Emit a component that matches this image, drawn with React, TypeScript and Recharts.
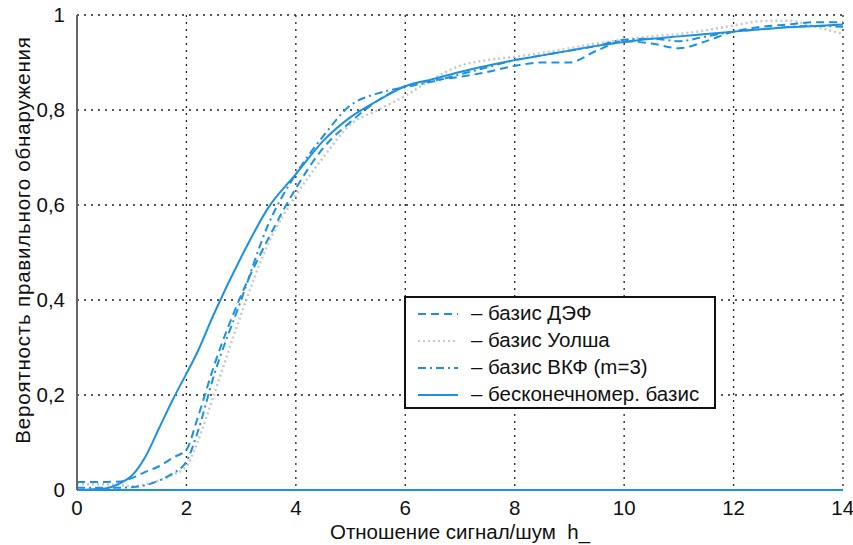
import { LineChart, Line, XAxis, YAxis, CartesianGrid, Label } from "recharts";

const snr = [0, 0.5, 0.8, 1, 1.25, 1.5, 1.75, 2, 2.2, 2.5, 3, 3.5, 4, 4.5, 5, 5.5, 6, 6.5, 7, 7.5, 8, 8.5, 9, 9.5, 10, 10.5, 11, 11.5, 12, 12.5, 13, 13.5, 14];
const def = [0.017, 0.017, 0.018, 0.025, 0.038, 0.05, 0.068, 0.085, 0.15, 0.26, 0.41, 0.53, 0.635, 0.72, 0.775, 0.82, 0.85, 0.862, 0.87, 0.88, 0.893, 0.9, 0.9, 0.925, 0.945, 0.94, 0.93, 0.945, 0.965, 0.975, 0.98, 0.985, 0.985];
const walsh = [0.012, 0.012, 0.01, 0.008, 0.012, 0.02, 0.032, 0.05, 0.1, 0.2, 0.37, 0.52, 0.62, 0.7, 0.77, 0.8, 0.83, 0.865, 0.893, 0.905, 0.912, 0.92, 0.93, 0.94, 0.948, 0.955, 0.96, 0.968, 0.978, 0.987, 0.988, 0.975, 0.96];
const vkf = [0.005, 0.005, 0.005, 0.006, 0.01, 0.02, 0.035, 0.06, 0.12, 0.24, 0.4, 0.56, 0.665, 0.745, 0.81, 0.835, 0.848, 0.86, 0.875, 0.89, 0.905, 0.915, 0.925, 0.935, 0.948, 0.95, 0.945, 0.955, 0.965, 0.97, 0.975, 0.977, 0.975];
const infinite = [0, 0.003, 0.015, 0.03, 0.07, 0.13, 0.19, 0.245, 0.29, 0.37, 0.49, 0.595, 0.665, 0.735, 0.785, 0.82, 0.85, 0.865, 0.88, 0.893, 0.905, 0.915, 0.925, 0.935, 0.943, 0.95, 0.955, 0.96, 0.965, 0.97, 0.974, 0.977, 0.98];

const xTicks = [0, 2, 4, 6, 8, 10, 12, 14];
const yTicks = [0, 0.2, 0.4, 0.6, 0.8, 1];

const BLUE = "#1e90e0";
const FONT = "'Liberation Sans', Arial, sans-serif";
const FS = 20.5;

const legendItems = [
  { label: "– базис ДЭФ", stroke: BLUE, dash: "8 5" },
  { label: "– базис Уолша", stroke: "#c8c8c8", dash: "2 3" },
  { label: "– базис ВКФ (m=3)", stroke: BLUE, dash: "8 4 2 4" },
  { label: "– бесконечномер. базис", stroke: BLUE, dash: undefined },
];

function LegendBox() {
  return (
    <div style={{ position: "absolute", left: 404, top: 296, border: "2px solid #111", background: "#fff", width: 312, height: 113, padding: "2px 0 0 12px", boxSizing: "border-box", fontFamily: FONT, fontSize: FS, color: "#111", lineHeight: 1 }}>
      {legendItems.map((it) => (
        <div key={it.label} style={{ display: "flex", alignItems: "center", height: 27 }}>
          <svg width={40} height={6} style={{ marginRight: 13 }}>
            <line x1={0} y1={3} x2={40} y2={3} stroke={it.stroke} strokeWidth={2.2} strokeDasharray={it.dash} />
          </svg>
          <span>{it.label}</span>
        </div>
      ))}
    </div>
  );
}

export default function App() {
  const data = snr.map((h, i) => ({ h, def: def[i], walsh: walsh[i], vkf: vkf[i], infinite: infinite[i] }));
  const tick = { fontSize: FS, fill: "#111", fontFamily: FONT };
  return (
    <div style={{ position: "absolute", left: 0, top: 0, background: "#fff", width: 853, height: 545, overflow: "hidden" }}>
      <LineChart width={853} height={545} data={data} margin={{ top: 15, right: 10, bottom: 0, left: 0 }}>
        <CartesianGrid stroke="#222" strokeDasharray="2 5" strokeWidth={1.3} horizontalValues={yTicks} verticalValues={xTicks} />
        <XAxis dataKey="h" type="number" domain={[0, 14]} ticks={xTicks} height={55} tick={tick} tickLine={false} stroke={BLUE} strokeWidth={2} tickMargin={4}>
          <Label
            content={() => (
              <text x={460} y={531} textAnchor="middle" dominantBaseline="central" style={{ fontSize: FS, fill: "#111", fontFamily: FONT, whiteSpace: "pre" }}>
                {"Отношение сигнал/шум\u00a0\u00a0h_"}
              </text>
            )}
          />
        </XAxis>
        <YAxis type="number" domain={[0, 1]} ticks={yTicks} width={77} tick={tick} tickLine={false} stroke="#666" strokeWidth={2} tickMargin={6} tickFormatter={(v: number) => String(v).replace(".", ",")}>
          <Label
            content={() => (
              <text transform="translate(22,240) rotate(-90)" textAnchor="middle" dominantBaseline="central" style={{ fontSize: FS, fill: "#111", fontFamily: FONT, letterSpacing: 0.8 }}>
                Вероятность правильного обнаружения
              </text>
            )}
          />
        </YAxis>
        <Line type="monotone" dataKey="walsh" stroke="#c8c8c8" strokeWidth={2.5} strokeDasharray="2 3" dot={false} isAnimationActive={false} />
        <Line type="monotone" dataKey="def" stroke={BLUE} strokeWidth={2} strokeDasharray="8 5" dot={false} isAnimationActive={false} />
        <Line type="monotone" dataKey="vkf" stroke={BLUE} strokeWidth={2} strokeDasharray="8 4 2 4" dot={false} isAnimationActive={false} />
        <Line type="monotone" dataKey="infinite" stroke={BLUE} strokeWidth={2} dot={false} isAnimationActive={false} />
      </LineChart>
      <LegendBox />
    </div>
  );
}
